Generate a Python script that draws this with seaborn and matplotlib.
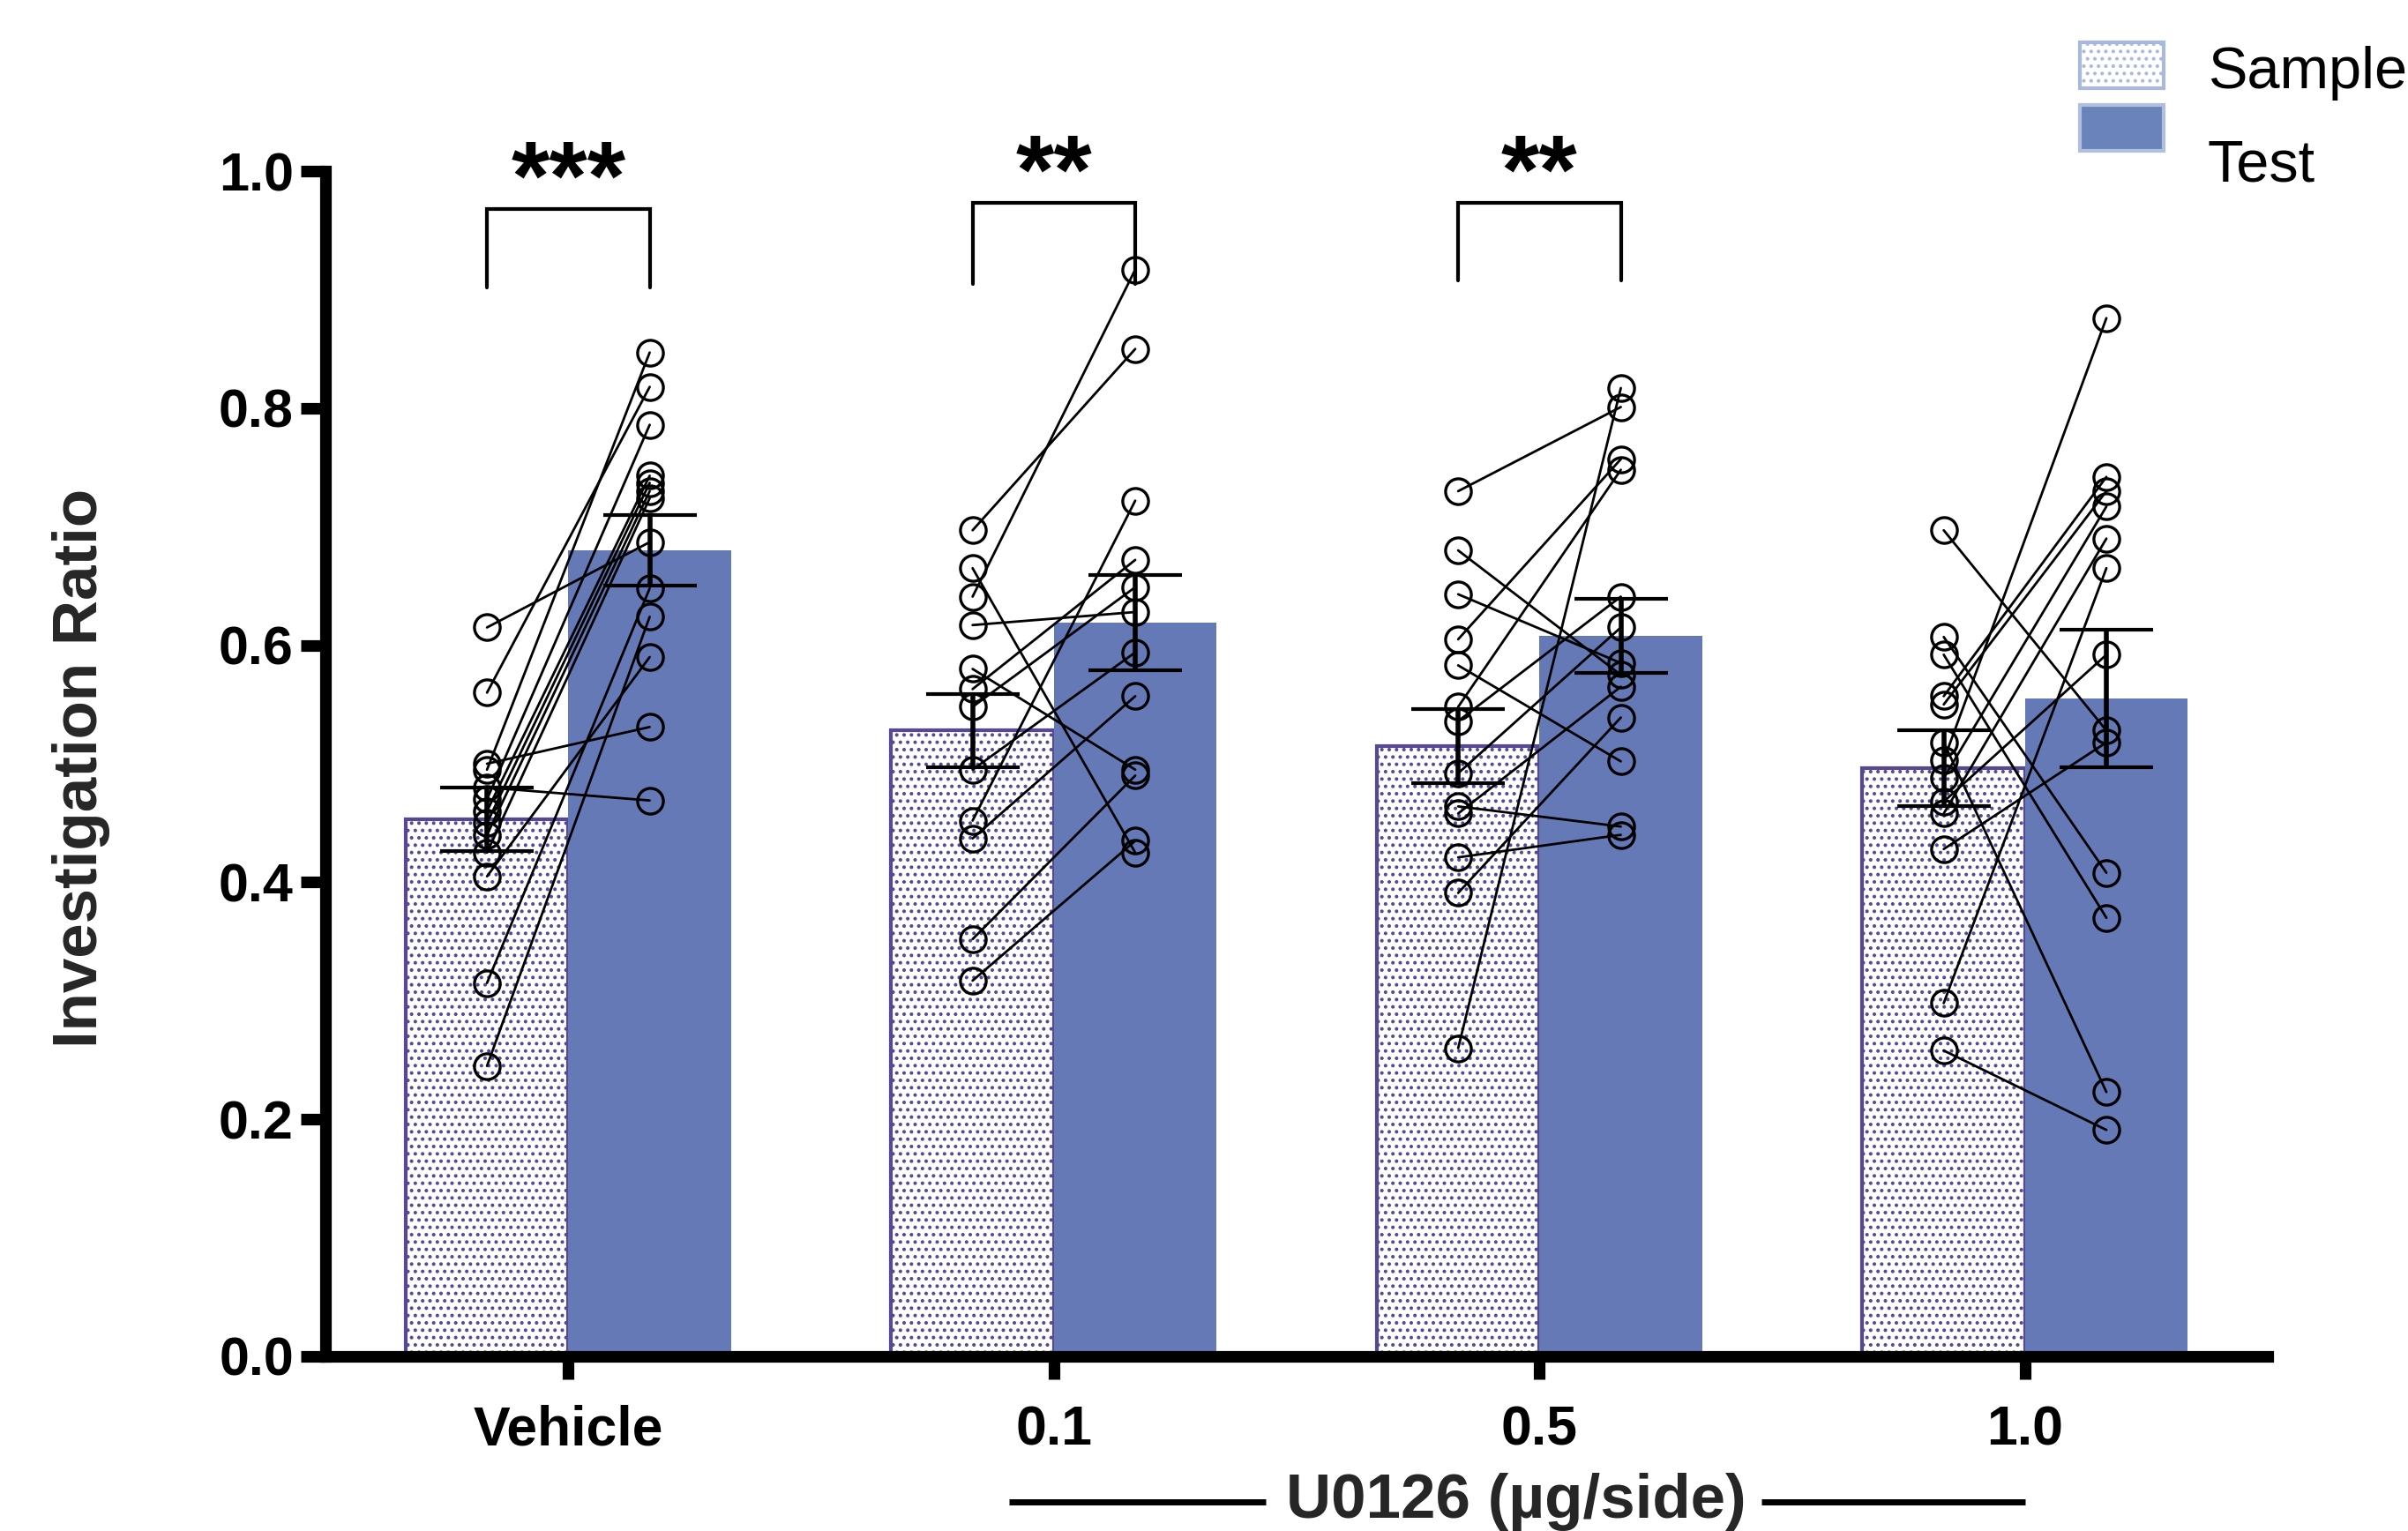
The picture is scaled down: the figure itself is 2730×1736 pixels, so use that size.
import numpy as np
import pandas as pd
import matplotlib
matplotlib.use("Agg")
import matplotlib.pyplot as plt
from matplotlib.patches import Rectangle
import seaborn as sns

# ---------------- data ----------------
groups = ["Vehicle", "0.1", "0.5", "1.0"]
phases = ["Sample", "Test"]

sample_mean = [0.453, 0.528, 0.515, 0.496]
sample_sem = [0.027, 0.031, 0.031, 0.032]
test_mean = [0.680, 0.619, 0.608, 0.555]
test_sem = [0.030, 0.040, 0.031, 0.058]

veh_sample = [0.615, 0.560, 0.500, 0.495, 0.480, 0.470, 0.460, 0.450, 0.440, 0.425, 0.405, 0.315, 0.245]
veh_test = [0.687, 0.818, 0.531, 0.847, 0.469, 0.786, 0.743, 0.737, 0.730, 0.724, 0.590, 0.648, 0.624]

d01_sample = [0.697, 0.665, 0.641, 0.617, 0.580, 0.563, 0.548, 0.495, 0.452, 0.437, 0.352, 0.317]
d01_test = [0.850, 0.425, 0.917, 0.628, 0.495, 0.672, 0.649, 0.594, 0.722, 0.557, 0.490, 0.435]

d05_sample = [0.730, 0.680, 0.643, 0.605, 0.583, 0.548, 0.536, 0.492, 0.464, 0.458, 0.421, 0.391, 0.260]
d05_test = [0.801, 0.575, 0.585, 0.757, 0.502, 0.748, 0.641, 0.615, 0.447, 0.565, 0.440, 0.539, 0.817]

d10_sample = [0.697, 0.607, 0.592, 0.557, 0.550, 0.518, 0.503, 0.488, 0.468, 0.458, 0.428, 0.298, 0.258]
d10_test = [0.528, 0.408, 0.370, 0.742, 0.730, 0.223, 0.876, 0.717, 0.592, 0.690, 0.518, 0.665, 0.191]

sig_groups = [0, 1, 2]
sig_labels = ["***", "**", "**"]

ytick_vals = [0.0, 0.2, 0.4, 0.6, 0.8, 1.0]
ytick_labels = ["0.0", "0.2", "0.4", "0.6", "0.8", "1.0"]
xlabel_text = "U0126 (\u00b5g/side)"
ylabel_text = "Investigation Ratio"

# ---------------- style ----------------
sns.set_theme(style="ticks")
plt.rcParams["font.family"] = ["Liberation Sans", "DejaVu Sans"]
plt.rcParams["font.weight"] = "bold"
plt.rcParams["hatch.linewidth"] = 1.7

test_color = "#6579b7"
sample_edge = "#584894"

fig = plt.figure(figsize=(27.3, 17.36), dpi=100)
ax = fig.add_axes([0.1352, 0.1141, 0.9418 - 0.1352, 0.8882 - 0.1141])

df = pd.DataFrame({
    "group": groups * 2,
    "phase": ["Sample"] * len(groups) + ["Test"] * len(groups),
    "value": sample_mean + test_mean,
})
sns.barplot(data=df, x="group", y="value", hue="phase", order=groups,
            hue_order=phases, palette={"Sample": "white", "Test": test_color},
            width=0.67, saturation=1, errorbar=None, legend=False, ax=ax)

sample_bars = list(ax.containers[0])
test_bars = list(ax.containers[1])
for b in sample_bars:
    b.set_edgecolor(sample_edge)
    b.set_linewidth(3)
    b.set_hatch("..")
for b in test_bars:
    b.set_edgecolor("none")

xs = [b.get_x() + b.get_width() / 2 for b in sample_bars]
xt = [b.get_x() + b.get_width() / 2 for b in test_bars]

# paired points
pairs = [(veh_sample, veh_test), (d01_sample, d01_test),
         (d05_sample, d05_test), (d10_sample, d10_test)]
for i, (s, t) in enumerate(pairs):
    for a, b in zip(s, t):
        ax.plot([xs[i], xt[i]], [a, b], color="black", lw=2.0, zorder=4)
    ax.plot([xs[i]] * len(s), s, ls="none", marker="o", ms=21, mfc="none",
            mec="black", mew=2.4, zorder=5)
    ax.plot([xt[i]] * len(t), t, ls="none", marker="o", ms=21, mfc="none",
            mec="black", mew=2.4, zorder=5)

# error bars (mean +/- SEM)
ax.errorbar(xs, sample_mean, yerr=sample_sem, fmt="none", ecolor="black",
            elinewidth=4, capsize=38, capthick=3, zorder=6)
ax.errorbar(xt, test_mean, yerr=test_sem, fmt="none", ecolor="black",
            elinewidth=4, capsize=38, capthick=3, zorder=6)

# significance brackets
bracket_top = [0.968, 0.973, 0.973]
bracket_leg = [0.902, 0.905, 0.908]
star_base = [0.968, 0.973, 0.973]
for g, lab, top, leg, sb in zip(sig_groups, sig_labels, bracket_top, bracket_leg, star_base):
    ax.plot([xs[g], xs[g], xt[g], xt[g]], [leg, top, top, leg], color="black",
            lw=3, solid_joinstyle="miter", clip_on=False, zorder=7)
    ax.text(g, sb, lab, ha="center", va="baseline", fontsize=80,
            fontweight="bold", color="black")

# axes
ax.set_xlim(-0.5, 3.5)
ax.set_ylim(0, 1.0)
ax.set_yticks(ytick_vals)
ax.set_yticklabels(ytick_labels)
ax.set_xlabel("")
ax.set_ylabel("")
for side in ["top", "right"]:
    ax.spines[side].set_visible(False)
for side in ["left", "bottom"]:
    ax.spines[side].set_linewidth(9.5)
    ax.spines[side].set_color("black")
    ax.spines[side].set_capstyle("projecting")
ax.tick_params(axis="y", length=20, width=9.5, pad=6, labelsize=44,
               color="black", labelcolor="black", direction="out")
ax.tick_params(axis="x", length=19, width=9.5, pad=20, labelsize=45,
               color="black", labelcolor="black", direction="out")
for lbl in ax.get_xticklabels() + ax.get_yticklabels():
    lbl.set_fontweight("bold")
ax.grid(False)

ax.text(-0.1257, 0.496, ylabel_text, transform=ax.transAxes, rotation=90,
        ha="center", va="center", fontsize=51, fontweight="bold")

tr = ax.get_xaxis_transform()
ax.text(1.951, -0.123, xlabel_text, transform=tr, ha="center", va="center",
        fontsize=51, fontweight="bold")
ax.plot([0.907, 1.437], [-0.123, -0.123], transform=tr, color="black",
        lw=5, clip_on=False, solid_capstyle="butt")
ax.plot([2.457, 3.0], [-0.123, -0.123], transform=tr, color="black",
        lw=5, clip_on=False, solid_capstyle="butt")

# legend (manual, partially clipped at right edge like the original)
fig.patches.append(Rectangle((0.8637, 0.9424), 0.0348, 0.0300,
                             transform=fig.transFigure, facecolor="white",
                             edgecolor="#a9b8de", lw=3, hatch=".."))
fig.patches.append(Rectangle((0.8637, 0.9015), 0.0348, 0.0300,
                             transform=fig.transFigure, facecolor="#6a83ba",
                             edgecolor="#b0bfe0", lw=3))
fig.text(0.9168, 0.9424, "Sample", ha="left", va="baseline", fontsize=48,
         fontweight="normal", color="black")
fig.text(0.9168, 0.8819, "Test", ha="left", va="baseline", fontsize=48,
         fontweight="normal", color="black")

fig.savefig("out.png", dpi=100, facecolor="white")
